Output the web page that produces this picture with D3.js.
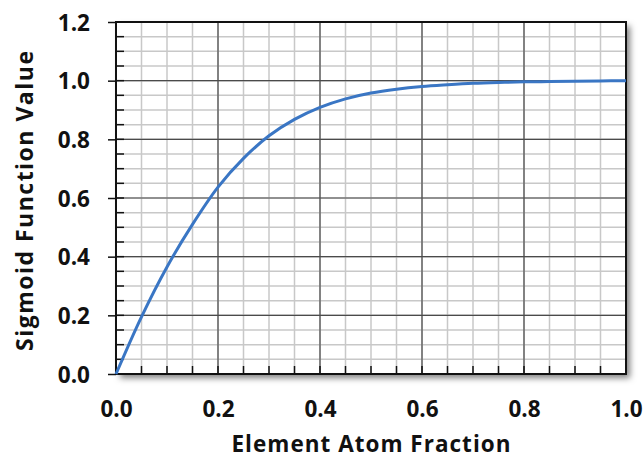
<!DOCTYPE html>
<html>
<head>
<meta charset="utf-8">
<script src="https://cdn.jsdelivr.net/npm/d3@7"></script>
<style>
  body { margin: 0; background: #fff; }
  text { font-family: "Open Sans", Lato, sans-serif; font-weight: bold; fill: #111; }
</style>
</head>
<body>
<div id="chart"></div>
<script>
// values
const fraction = [0, 0.05, 0.1, 0.15, 0.2, 0.25, 0.3, 0.35, 0.4, 0.45, 0.5,
                  0.55, 0.6, 0.65, 0.7, 0.75, 0.8, 0.85, 0.9, 0.95, 1.0];
const sigmoid = [0, 0.195, 0.365, 0.51, 0.637, 0.735, 0.812, 0.868, 0.909, 0.938, 0.958,
                 0.971, 0.98, 0.986, 0.991, 0.994, 0.996, 0.997, 0.998, 0.999, 1.0];
const xTicks = [0, 0.2, 0.4, 0.6, 0.8, 1.0];
const yTicks = [0, 0.2, 0.4, 0.6, 0.8, 1.0, 1.2];
const xMinor = d3.range(0, 1.0001, 0.05);
const yMinor = d3.range(0, 1.2001, 0.05);

const W = 644, H = 460;
const margin = {top: 22, right: 18, bottom: 86, left: 116};
const width = W - margin.left - margin.right,
      height = H - margin.top - margin.bottom;

const svg = d3.select("#chart").append("svg")
    .attr("width", W).attr("height", H);

const defs = svg.append("defs");
const f = defs.append("filter").attr("id", "shadow")
    .attr("x", "-5%").attr("y", "-5%").attr("width", "115%").attr("height", "115%");
f.append("feDropShadow").attr("dx", 4).attr("dy", 4).attr("stdDeviation", 3)
    .attr("flood-color", "#000").attr("flood-opacity", 0.5);

const g = svg.append("g")
    .attr("transform", "translate(" + margin.left + "," + margin.top + ")");

const x = d3.scaleLinear().domain([0, 1]).range([0, width]);
const y = d3.scaleLinear().domain([0, 1.2]).range([height, 0]);

// plot background with shadow
g.append("rect").attr("width", width).attr("height", height)
    .attr("fill", "#fff").attr("filter", "url(#shadow)");

// minor grid
g.append("g").selectAll("line").data(xMinor).join("line")
    .attr("x1", d => x(d)).attr("x2", d => x(d))
    .attr("y1", 0).attr("y2", height)
    .attr("stroke", "#c8c8c8").attr("stroke-width", 1.5);
g.append("g").selectAll("line").data(yMinor).join("line")
    .attr("y1", d => y(d)).attr("y2", d => y(d))
    .attr("x1", 0).attr("x2", width)
    .attr("stroke", "#c8c8c8").attr("stroke-width", 1.5);

// major grid
g.append("g").selectAll("line").data(xTicks).join("line")
    .attr("x1", d => x(d)).attr("x2", d => x(d))
    .attr("y1", 0).attr("y2", height)
    .attr("stroke", "#4a4a4a").attr("stroke-width", 1.2);
g.append("g").selectAll("line").data(yTicks).join("line")
    .attr("y1", d => y(d)).attr("y2", d => y(d))
    .attr("x1", 0).attr("x2", width)
    .attr("stroke", "#4a4a4a").attr("stroke-width", 1.2);

// minor ticks (inside)
g.append("g").selectAll("line").data(xMinor).join("line")
    .attr("x1", d => x(d)).attr("x2", d => x(d))
    .attr("y1", height).attr("y2", height - 8)
    .attr("stroke", "#111").attr("stroke-width", 1.5);
g.append("g").selectAll("line").data(yMinor).join("line")
    .attr("y1", d => y(d)).attr("y2", d => y(d))
    .attr("x1", 0).attr("x2", 8)
    .attr("stroke", "#111").attr("stroke-width", 1.5);

// axes with outward major ticks on y
const yAxis = g.append("g")
    .call(d3.axisLeft(y).tickValues(yTicks).tickSize(8).tickFormat(d3.format(".1f")));
const xAxis = g.append("g").attr("transform", "translate(0," + height + ")")
    .call(d3.axisBottom(x).tickValues(xTicks).tickSize(0).tickFormat(d3.format(".1f")));
[xAxis, yAxis].forEach(a => {
  a.select(".domain").remove();
  a.selectAll(".tick line").attr("stroke", "#111").attr("stroke-width", 1.5);
  a.selectAll("text").attr("font-size", 22.5).attr("fill", "#111")
      .style("font-family", "'Open Sans', sans-serif").style("font-weight", "bold");
});
yAxis.selectAll("text").attr("x", -26).attr("dy", "0.36em");
xAxis.selectAll("text").attr("y", 43).attr("dy", 0);

// plot border
g.append("rect").attr("width", width).attr("height", height)
    .attr("fill", "none").attr("stroke", "#111").attr("stroke-width", 2);

// curve
const pts = fraction.map((d, i) => [d, sigmoid[i]]);
g.append("path").datum(pts)
    .attr("fill", "none").attr("stroke", "#3a76c4").attr("stroke-width", 3)
    .attr("d", d3.line().x(d => x(d[0])).y(d => y(d[1])).curve(d3.curveCatmullRom.alpha(0.5)));

// titles
svg.append("text").attr("x", margin.left + width / 2).attr("y", 452)
    .attr("text-anchor", "middle").attr("font-size", 22.5)
    .attr("textLength", 279).attr("lengthAdjust", "spacing")
    .text("Element Atom Fraction");
svg.append("text").attr("transform", "translate(33," + (margin.top + height / 2 + 3) + ") rotate(-90)")
    .attr("text-anchor", "middle").attr("font-size", 23)
    .attr("textLength", 300).attr("lengthAdjust", "spacing")
    .text("Sigmoid Function Value");
</script>
</body>
</html>
